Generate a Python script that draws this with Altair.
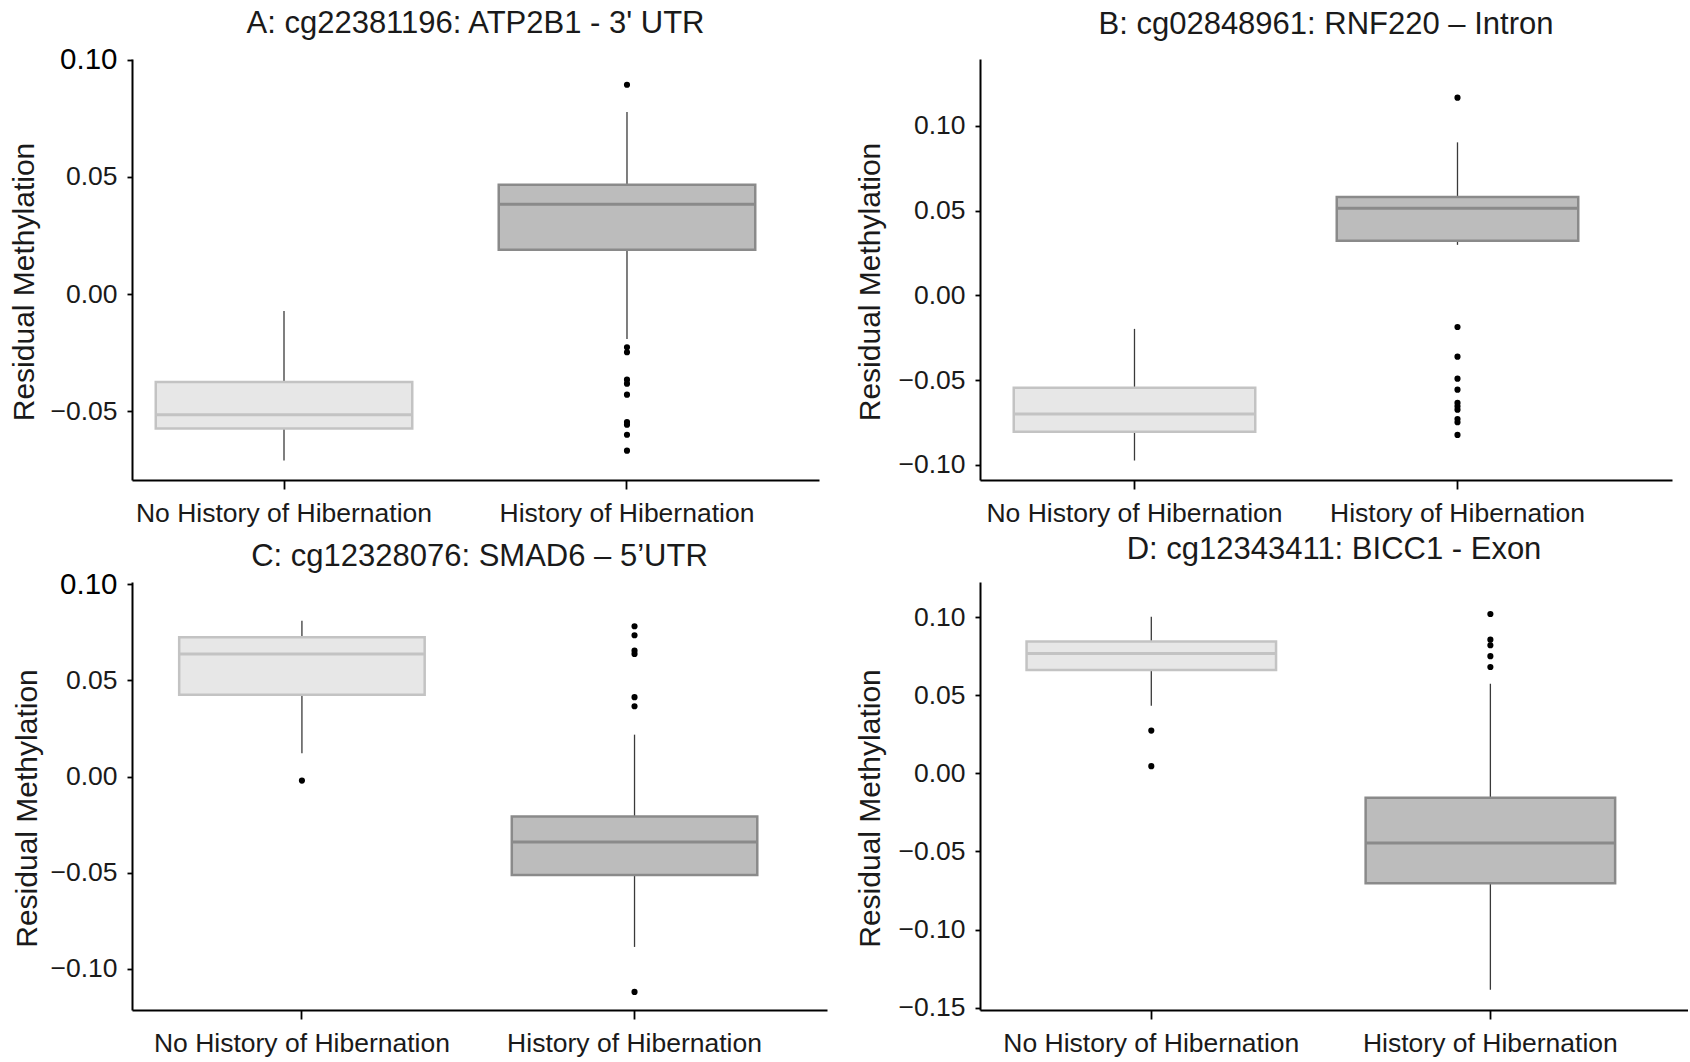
import altair as alt
import pandas as pd

# ---------------- data ----------------
groups = ["No History of Hibernation", "History of Hibernation"]

titles = [
    "A: cg22381196: ATP2B1 - 3' UTR",
    "B: cg02848961: RNF220 \u2013 Intron",
    "C: cg12328076: SMAD6 \u2013 5\u2019UTR",
    "D: cg12343411: BICC1 - Exon",
]

# Panel A
a_lower = [-0.0710, -0.0192]
a_q1 = [-0.0573, 0.0189]
a_median = [-0.0515, 0.0383]
a_q3 = [-0.0375, 0.0467]
a_upper = [-0.0072, 0.0777]
a_out_no = []
a_out_hist = [0.0893, -0.0227, -0.0248, -0.0365, -0.0382, -0.0429,
              -0.0546, -0.0557, -0.0600, -0.0668]

# Panel B
b_lower = [-0.0975, 0.0298]
b_q1 = [-0.0805, 0.0322]
b_median = [-0.0701, 0.0514]
b_q3 = [-0.0545, 0.0581]
b_upper = [-0.0198, 0.0903]
b_out_no = []
b_out_hist = [0.1167, -0.0187, -0.0362, -0.0492, -0.0557, -0.0635,
              -0.0655, -0.0675, -0.0730, -0.0749, -0.0824]

# Panel C
c_lower = [0.0121, -0.0886]
c_q1 = [0.0426, -0.0512]
c_median = [0.0637, -0.0340]
c_q3 = [0.0725, -0.0208]
c_upper = [0.0810, 0.0218]
c_out_no = [-0.0021]
c_out_hist = [0.0782, 0.0735, 0.0655, 0.0638, 0.0413, 0.0366, -0.1120]

# Panel D
d_lower = [0.0432, -0.1385]
d_q1 = [0.0662, -0.0703]
d_median = [0.0768, -0.0446]
d_q3 = [0.0844, -0.0157]
d_upper = [0.1002, 0.0574]
d_out_no = [0.0274, 0.0046]
d_out_hist = [0.1020, 0.0856, 0.0820, 0.0750, 0.0681]

# y-axis tick values and limits per panel
a_ticks = [-0.05, 0.0, 0.05, 0.10]
b_ticks = [-0.10, -0.05, 0.0, 0.05, 0.10]
c_ticks = [-0.10, -0.05, 0.0, 0.05, 0.10]
d_ticks = [-0.15, -0.10, -0.05, 0.0, 0.05, 0.10]
a_limits = [-0.0793, 0.1003]
b_limits = [-0.1090, 0.1395]
c_limits = [-0.1214, 0.1012]
d_limits = [-0.1515, 0.1225]

# ---------------- style ----------------
FONT = "Liberation Sans"
TEXT = "#1a1a1a"
fills = ["#e7e7e7", "#bcbcbc"]
strokes = ["#c3c3c3", "#8a8a8a"]
LABEL_SIZE = 26.5


def panel(title, lower, q1, med, q3, upper, out_no, out_hist, ticks, limits,
          w, h, pad_outer, align, box, title_offset, title_x, big_top=False):
    box_df = pd.DataFrame({"group": groups, "lower": lower, "q1": q1,
                           "median": med, "q3": q3, "upper": upper})
    out_df = pd.DataFrame({
        "group": [groups[0]] * len(out_no) + [groups[1]] * len(out_hist),
        "value": list(out_no) + list(out_hist),
    })
    x = alt.X(
        "group:N", sort=groups, title=None,
        scale=alt.Scale(domain=groups, paddingInner=0.3,
                        paddingOuter=pad_outer, align=align),
        axis=alt.Axis(labelAngle=0, tickSize=9, labelPadding=11,
                      labelLimit=0),
    )
    ys = alt.Scale(domain=limits, nice=False, zero=False)
    if big_top:
        lfs = {"condition": {"test": "datum.value > 0.099", "value": 29.5},
               "value": LABEL_SIZE}
        lcol = {"condition": {"test": "datum.value > 0.099", "value": "#000000"},
                "value": TEXT}
    else:
        lfs = LABEL_SIZE
        lcol = TEXT
    yax = alt.Axis(values=ticks, format=".2f", tickSize=5, labelPadding=10,
                   labelFontSize=lfs, labelColor=lcol,
                   titleX=title_x, titleY=h / 2 + 12,
                   titleBaseline="alphabetic", titleAngle=270)
    ytitle = "Residual Methylation"

    whisk = alt.Chart(box_df).mark_rule(color="#3a3a3a", strokeWidth=1.3).encode(
        x=x, y=alt.Y("lower:Q", scale=ys, axis=yax, title=ytitle), y2="upper:Q")
    boxes = alt.Chart(box_df).mark_bar(size=box, strokeWidth=2.5).encode(
        x=x, y=alt.Y("q1:Q", scale=ys, axis=yax, title=ytitle), y2="q3:Q",
        fill=alt.Fill("group:N", scale=alt.Scale(domain=groups, range=fills),
                      legend=None),
        stroke=alt.Stroke("group:N", scale=alt.Scale(domain=groups, range=strokes),
                          legend=None),
    )
    meds = alt.Chart(box_df).mark_tick(size=box, thickness=3, opacity=1).encode(
        x=x, y=alt.Y("median:Q", scale=ys, axis=yax, title=ytitle),
        color=alt.Color("group:N", scale=alt.Scale(domain=groups, range=strokes),
                        legend=None),
    )
    pts = alt.Chart(out_df).mark_circle(size=38, color="black", opacity=1).encode(
        x=x, y=alt.Y("value:Q", scale=ys, axis=yax, title=ytitle))

    return alt.layer(whisk, boxes, meds, pts).properties(
        width=w, height=h,
        title=alt.TitleParams(title, anchor="middle", frame="group",
                              baseline="alphabetic", offset=title_offset),
    )


pA = panel(titles[0], a_lower, a_q1, a_median, a_q3, a_upper, a_out_no, a_out_hist,
           a_ticks, a_limits, 687, 421, 0.1515, 0.3075, 256.5, -19, -99, True)
pB = panel(titles[1], b_lower, b_q1, b_median, b_q3, b_upper, b_out_no, b_out_hist,
           b_ticks, b_limits, 692, 421, 0.2212, 0.290, 241.5, -6, -101)
pC = panel(titles[2], c_lower, c_q1, c_median, c_q3, c_upper, c_out_no, c_out_hist,
           c_ticks, c_limits, 695, 428, 0.1948, 0.413, 245.5, -28, -96, True)
pD = panel(titles[3], d_lower, d_q1, d_median, d_q3, d_upper, d_out_no, d_out_hist,
           d_ticks, d_limits, 708, 428, 0.194, 0.400, 249.5, -8, -101)

chart = alt.concat(
    pA, pB, pC, pD, columns=2, bounds="flush", align="each",
    spacing={"row": 102, "column": 153},
).properties(
    padding={"left": 9, "top": 7, "right": 0, "bottom": 0},
    background="white",
).configure_view(stroke=None).configure_axis(
    grid=False,
    domainColor="black", domainWidth=2,
    tickColor="black", tickWidth=1.8,
    labelFont=FONT, labelFontSize=LABEL_SIZE, labelColor=TEXT,
    titleFont=FONT, titleFontSize=30, titleFontWeight="normal", titleColor=TEXT,
).configure_title(
    font=FONT, fontSize=31, fontWeight="normal", color=TEXT,
)

chart.save("out.html", embed_options={"renderer": "svg", "actions": False})
